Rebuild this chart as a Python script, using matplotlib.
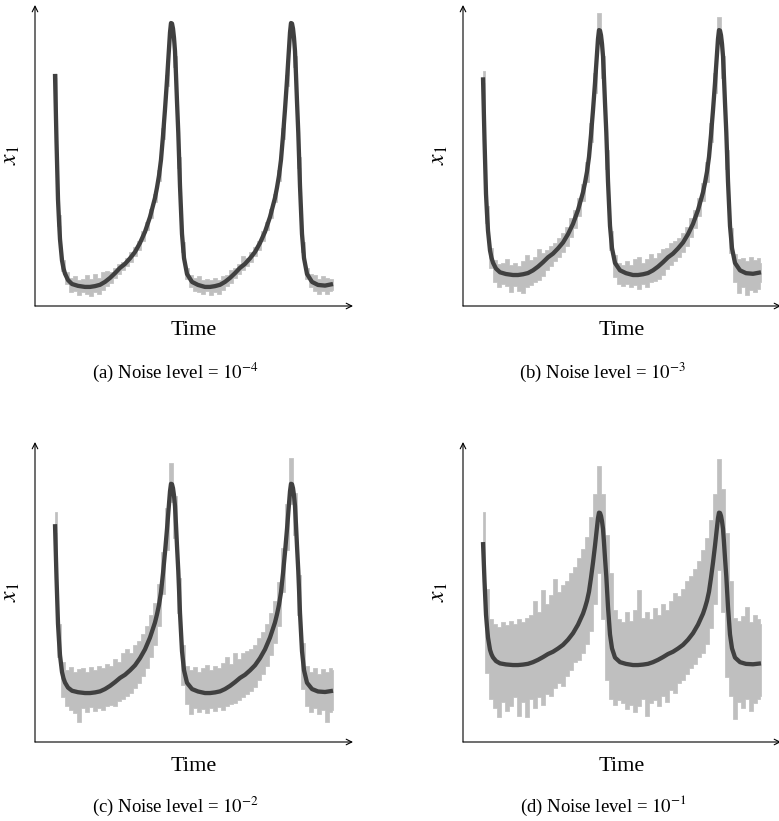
import matplotlib
matplotlib.use("Agg")
import matplotlib.pyplot as plt

plt.rcParams['font.family'] = ['Liberation Serif', 'DejaVu Serif']
plt.rcParams['mathtext.fontset'] = 'stix'

# clean trajectory (same in every panel), x1 scaled so min = 0, peak = 100
t_clean = [0, 1.5, 3, 4, 5, 7, 8.5, 10, 13, 17, 23, 30, 35, 40, 45, 50, 55, 60, 65, 70,
           75, 80, 85, 90, 95, 100, 102, 104, 106, 108, 110, 112, 113, 114, 115, 116, 117, 118, 119, 120,
           121, 122, 123.3, 125, 127, 129, 132, 137, 143, 150, 155, 160, 165, 170, 175, 180, 185, 190, 195,
           200, 205, 210, 215, 220, 222, 224, 226, 228, 230, 232, 233, 234, 235, 236, 237, 238, 239, 240, 241,
           242, 243.3, 245, 247, 249, 252, 257, 263, 270, 278]
x1_clean = [80.4, 55, 33, 25, 18, 10, 7, 5, 2.6, 1.1, 0.4, 0, 0, 0.3, 0.8, 1.9, 3.4, 5.2, 7.2, 8.7,
            10.8, 13.2, 16.6, 20.8, 26.4, 33.6, 37.5, 42, 48, 57, 67, 78, 84, 90, 96, 99.6, 99.4, 97.5, 94, 89,
            80, 70, 58, 38, 20, 10.9, 4.9, 1.9, 0.75, 0, 0, 0.3, 0.8, 1.9, 3.4, 5.2, 7.2, 8.7, 10.8,
            13.2, 16.6, 20.8, 26.4, 33.6, 37.5, 42, 48, 57, 67, 78, 84, 90, 96, 99.6, 99.4, 97.5, 94, 89, 80,
            70, 58, 38, 20, 10.9, 4.9, 1.9, 0.75, 0.5, 1.1]

t_noise = [0, 4, 8, 12, 16, 20, 24, 28, 32, 36, 40, 44, 48, 52, 56, 60, 64, 68, 72, 76,
           80, 84, 88, 92, 96, 100, 104, 108, 112, 116, 120, 124, 128, 132, 136, 140, 144, 148, 152, 156,
           160, 164, 168, 172, 176, 180, 184, 188, 192, 196, 200, 204, 208, 212, 216, 220, 224, 228, 232, 236,
           240, 244, 248, 252, 256, 260, 264, 268, 272, 276, 278]

hi_a = [80.5, 27, 10, 5.5, 3.5, 4, 2.5, 3, 4.5, 3, 5, 3.5, 5.5, 6, 5.5, 7, 8.5, 9.5, 11, 13,
        15, 17.5, 21, 24.5, 29.5, 35, 44, 60, 80, 99.5, 87, 49, 17, 7, 4.5, 3.5, 4, 2.5, 3, 2.5,
        3.5, 2.5, 4, 4.5, 6.5, 7, 8.5, 11.5, 11, 13, 15, 17.5, 21, 24.5, 29.5, 35, 44, 60, 80, 99.5,
        87, 49, 17, 7, 5, 4.5, 3, 4, 3.5, 3, 3]
lo_a = [79, 23, 6, 1, -2, -1.5, -3, -2, -2.5, -3.5, -2, -2.5, -1, 0.5, 1.5, 3.5, 5, 6.5, 8, 9.5,
        11.5, 14, 17.5, 21.5, 26, 32, 40, 56, 76, 98, 83, 45, 13, 3, 0, -1.5, -2, -2.5, -1.5, -3,
        -2, -2.5, -1, 0.5, 1.5, 3.5, 5, 6.5, 8, 9.5, 11.5, 14, 17.5, 21.5, 26, 32, 40, 56, 76, 98,
        83, 45, 13, 3, 0, -1.5, -2.5, -1.5, -2.5, -1.5, -1]

hi_b = [83, 28, 11, 6, 4.5, 5, 6.5, 4, 5, 3.5, 5.5, 8, 6, 7.5, 10.5, 9, 10, 12, 13, 15,
        17, 19.5, 23, 26.5, 31.5, 37, 46, 62, 82, 106.5, 89, 51, 18, 8, 5, 4, 5.5, 4, 6.5, 7.5,
        5, 6.5, 8.5, 7, 9, 10.5, 11, 13, 14, 15, 17, 19.5, 23, 26.5, 31.5, 37.5, 46, 62, 82, 105,
        89, 51, 19, 8.5, 6.5, 7, 5.5, 7.5, 6, 7, 5]
lo_b = [78, 21, 3, -3, -5, -3.5, -4.5, -7, -4.5, -6.5, -7.5, -5, -4, -3, -2, -0.5, 2, 3.5, 5.5, 7.5,
        9.5, 12, 15.5, 19, 24, 30, 38, 54, 74, 95, 80, 43, 10, -1, -3.5, -4.5, -3.5, -5, -4, -5.5,
        -3.5, -5, -3, -2.5, -1.5, 0, 2.5, 4, 5.5, 7.5, 9.5, 12, 15.5, 19, 24, 30, 38, 54, 74, 95,
        80, 43, 9, -3, -7.5, -5, -8, -6, -7, -5.5, -3]

hi_c = [86, 33, 15, 11, 12.5, 10, 11.5, 12, 10, 12.5, 11, 13, 12, 14, 13, 16, 15, 19, 21, 19,
        23, 25, 28, 32, 37, 43, 52, 67, 88, 109.5, 94, 55, 23, 13, 11, 12.5, 10, 12, 13.5, 11,
        13, 12, 14.5, 17, 14, 19, 16, 19, 20, 21, 23, 26, 29, 33, 38, 44, 53, 69, 90, 112,
        95, 56, 24, 13, 10, 12, 9, 11.5, 10, 12, 11]
lo_c = [76, 17, -2, -6, -8, -9.5, -14, -7, -9, -6.5, -8.5, -7, -8, -6, -5.5, -6, -4, -3, -1.5, 0,
        2.5, 5, 8, 12, 17, 23, 32, 47, 68, 91, 74, 38, 4, -5, -10, -7, -9, -7.5, -9.5, -7,
        -8.5, -6.5, -8, -6, -5, -4.5, -3.5, -2, -0.5, 1, 3, 6, 9, 13, 18, 24, 32, 48, 68, 90,
        75, 37, 2, -6, -9, -7, -10, -8, -14, -9, -8]

hi_d = [100, 50, 30, 27, 25, 28, 26, 29, 27, 30, 28, 31, 33, 42, 35, 49, 40, 46, 56, 48,
        52, 55, 60, 64, 70, 76, 84, 97, 112, 130, 112, 85, 60, 36, 30, 28, 35, 29, 36, 49,
        31, 35, 30, 37, 33, 40, 36, 42, 47, 45, 50, 55, 58, 63, 68, 75, 83, 95, 112, 135,
        115, 86, 55, 31, 29, 32, 38, 28, 33, 30, 27]
lo_d = [60, -5, -22, -28, -34, -24, -30, -27, -21, -33, -24, -34, -22, -28, -21, -26, -19, -20, -15, -12,
        -14, -7, -3, 2, 3, 8, 14, 22, 40, 60, 30, -10, -22, -26, -23, -25, -29, -26, -31, -27,
        -22, -33, -25, -23, -27, -20, -24, -16, -18, -12, -10, -6, -2, 1, 5, 8, 14, 24, 40, 62,
        35, -8, -20, -35, -24, -28, -22, -30, -25, -22, -20]

captions = [r"(a) Noise level = $10^{-4}$", r"(b) Noise level = $10^{-3}$",
            r"(c) Noise level = $10^{-2}$", r"(d) Noise level = $10^{-1}$"]
ylims = [(-7.2, 106.4), (-12.6, 109.8), (-23.3, 119.5), (-50.3, 145.8)]

fig = plt.figure(figsize=(7.79, 8.21), dpi=100)

W, H = 779., 821.
rects = [(35, 5, 306), (463, 5, 306), (35, 442, 742), (463, 442, 742)]
cap_pos = [(175, 372), (603, 372), (175, 806), (603, 806)]
bands = [(hi_a, lo_a), (hi_b, lo_b), (hi_c, lo_c), (hi_d, lo_d)]

for i in range(4):
    x0, ytop, ybot = rects[i]
    ax = fig.add_axes([x0 / W, 1 - ybot / H, 318 / W, (ybot - ytop) / H])
    hi, lo = bands[i]
    ax.fill_between(t_noise, lo, hi, step='mid', facecolor='#bfbfbf',
                    edgecolor='#bfbfbf', lw=0.5)
    ax.plot(t_clean, x1_clean, color='#404040', lw=3.1, solid_capstyle='butt')
    ax.set_xlim(-20, 298)
    ax.set_ylim(*ylims[i])
    for s in ax.spines.values():
        s.set_visible(False)
    ax.set_xticks([])
    ax.set_yticks([])
    # axis arrows
    ax.annotate('', xy=(1, 0), xytext=(0, 0), xycoords='axes fraction',
                arrowprops=dict(arrowstyle='->', lw=0.8, color='k', shrinkA=0, shrinkB=0))
    ax.annotate('', xy=(0, 1), xytext=(0, 0), xycoords='axes fraction',
                arrowprops=dict(arrowstyle='->', lw=0.8, color='k', shrinkA=0, shrinkB=0))
    ax.set_xlabel('Time', fontsize=16)
    ax.xaxis.set_label_coords(0.5, -15 / (ybot - ytop))
    ax.set_ylabel(r'$x_1$', fontsize=17)
    ax.yaxis.set_label_coords(-13 / 318, 0.5)
    cx, cy = cap_pos[i]
    fig.text(cx / W, 1 - cy / H, captions[i], ha='center', va='center', fontsize=13.5)

fig.savefig('out.png', dpi=100)
